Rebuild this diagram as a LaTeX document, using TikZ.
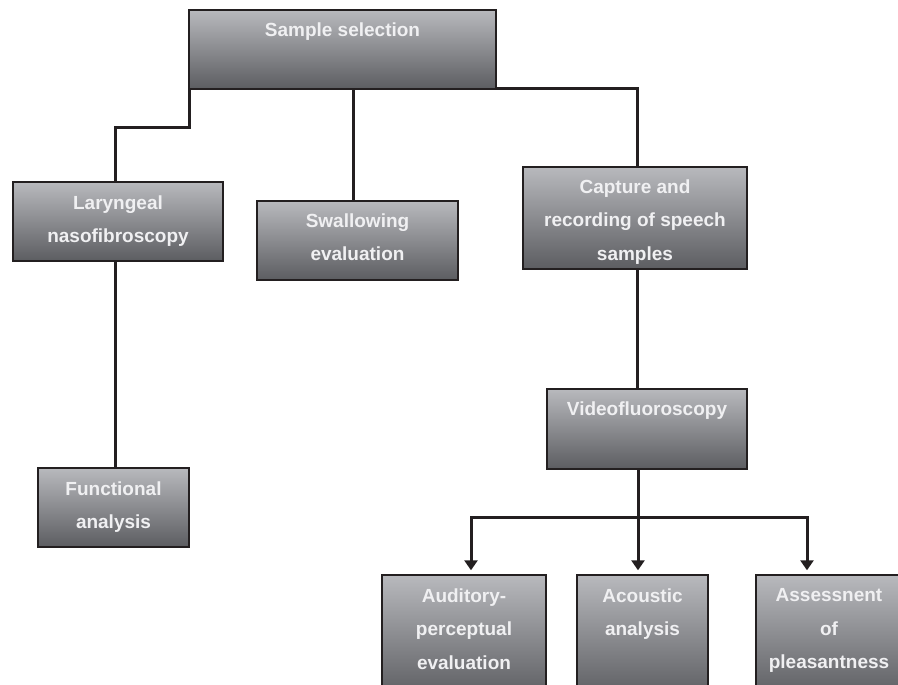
\documentclass[tikz,border=0pt]{standalone}
\usepackage{fontspec}
\usetikzlibrary{arrows.meta,positioning}
\newfontfamily\boxfont{Liberation Sans}
\definecolor{boxtop}{RGB}{184,185,189}
\definecolor{boxmid}{RGB}{162,163,167}
\definecolor{boxbot}{RGB}{92,93,97}
\definecolor{linedark}{RGB}{35,31,32}
\definecolor{boxtxt}{RGB}{240,240,242}

\begin{document}
\begin{tikzpicture}[x=1pt,y=-1pt,line join=miter,
	box/.style={draw=linedark,line width=1.4pt,top color=boxtop,middle color=boxmid,bottom color=boxbot,inner sep=0pt},
	boxtext/.style={anchor=north,inner sep=0pt,align=center,text=boxtxt,font=\boxfont\bfseries\fontsize{19}{33.5}\selectfont},
	link/.style={draw=linedark,line width=3pt},
	arr/.style={link,-{Triangle[width=13pt,length=10pt]},shorten >=4pt}]
		\useasboundingbox (0,0) rectangle (898,685);
		\clip (0,0) rectangle (898,685);
	% boxes
		\node[box,minimum width=307pt,minimum height=79pt] (sel) at (342.5,49.5) {};
		\node[box,minimum width=210pt,minimum height=79pt] (lar) at (118,221.5) {};
		\node[box,minimum width=201pt,minimum height=79pt] (swa) at (357.5,240.5) {};
		\node[box,minimum width=224pt,minimum height=102pt] (cap) at (635,218) {};
		\node[box,minimum width=151pt,minimum height=79pt] (fun) at (113.5,507.5) {};
		\node[box,minimum width=200pt,minimum height=80pt] (vid) at (647,429) {};
		\node[box,minimum width=164pt,minimum height=123pt] (aud) at (464,636.5) {};
		\node[box,minimum width=131pt,minimum height=123pt] (aco) at (642.5,636.5) {};
		\node[box,minimum width=146pt,minimum height=123pt] (ass) at (829,636.5) {};
	% texts
		\node[boxtext] (sel-t) at ([yshift=-13pt]sel.north) {Sample selection};
		\node[boxtext] (lar-t) at ([yshift=-14pt]lar.north) {Laryngeal\\nasofibroscopy};
		\node[boxtext] (swa-t) at ([yshift=-13pt]swa.north) {Swallowing\\evaluation};
		\node[boxtext] (cap-t) at ([yshift=-13pt]cap.north) {Capture and\\recording of speech\\samples};
		\node[boxtext] (fun-t) at ([yshift=-14pt]fun.north) {Functional\\analysis};
		\node[boxtext] (vid-t) at ([yshift=-13pt]vid.north) {Videofluoroscopy};
		\node[boxtext] (aud-t) at ([yshift=-14pt]aud.north) {Auditory-\\perceptual\\evaluation};
		\node[boxtext] (aco-t) at ([yshift=-14pt]aco.north) {Acoustic\\analysis};
		\node[boxtext] (ass-t) at ([yshift=-14pt]ass.north) {Assessnent\\of\\pleasantness};
	% connectors
		\draw[link] ([xshift=1pt]sel.south west) -- ++(0,38) -| ([xshift=-3pt]lar.north);
		\draw[link] ([xshift=-4.5pt]swa.north |- sel.south) -- ([xshift=-4.5pt]swa.north);
		\draw[link] ([yshift=1pt]sel.south east) -| ([xshift=2pt]cap.north);
		\draw[link] ([xshift=1.5pt]fun.north |- lar.south) -- ([xshift=1.5pt]fun.north);
		\draw[link] ([xshift=2pt]cap.south) -- ([xshift=2pt]cap.south |- vid.north);
		\coordinate (split) at (638,517);
		\draw[link] (split |- vid.south) -- (split);
		\draw[arr] (split) -| ([xshift=7pt]aud.north);
		\draw[arr] (split) -- (split |- aco.north);
		\draw[arr] (split) -| ([xshift=-22pt]ass.north);
\end{tikzpicture}
\end{document}
